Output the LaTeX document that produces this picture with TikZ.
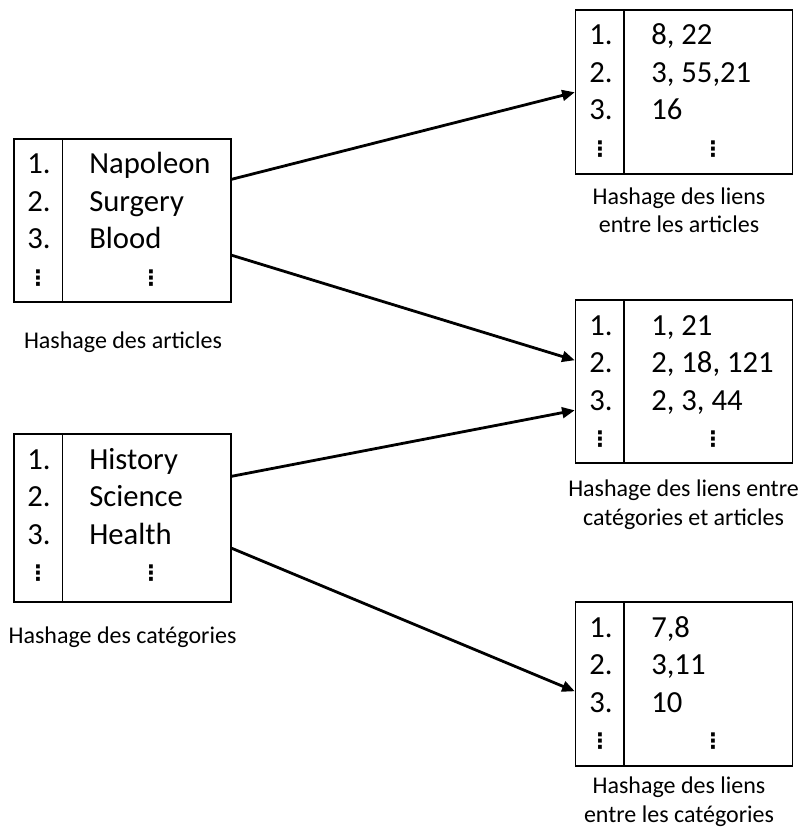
\documentclass[tikz,border=0pt]{standalone}
\usepackage{fontspec}
\setmainfont{Carlito}
\newfontfamily\symfont{DejaVu Sans}
\usetikzlibrary{arrows.meta}

% rows of one hash table: #1 prefix, #2 left x, #3 top y, #4-#6 row values
\newcommand\tablerows[6]{%
  \node[cell] (#1-n1) at (#2+13,#3+35) {1.};
  \node[cell] (#1-n2) at (#2+13,#3+72.5) {2.};
  \node[cell] (#1-n3) at (#2+13,#3+110) {3.};
  \node[cell] (#1-v1) at (#2+75,#3+35) {#4};
  \node[cell] (#1-v2) at (#2+75,#3+72.5) {#5};
  \node[cell] (#1-v3) at (#2+75,#3+110) {#6};
  \node[vdotsmark] (#1-d1) at (#2+24,#3+139) {⋮};
  \node[vdotsmark] (#1-d2) at (#2+137,#3+139) {⋮};
}

\begin{document}
\begin{tikzpicture}[x=0.75pt,y=-0.75pt,
  tbl/.style={draw, line width=1.1pt, inner sep=0pt, minimum width=162.75pt},
  cell/.style={anchor=base west, inner sep=0pt, font=\fontsize{23}{27}\selectfont},
  vdotsmark/.style={inner sep=0pt, font=\symfont\bfseries\fontsize{16}{16}\selectfont},
  tablecaption/.style={align=center, anchor=base, inner sep=0pt, font=\fontsize{18}{21.5}\selectfont},
  link/.style={line width=2.1pt, -{Triangle[length=9.5pt,width=8pt]}}]
\useasboundingbox (0,0) rectangle (803,830);

% left tables
\node[tbl, minimum height=122.25pt] (art) at (122.5,220.5) {};
\node[tbl, minimum height=126pt] (cat) at (122.5,518) {};
% right tables
\node[tbl, minimum height=123pt] (lart) at (684,92) {};
\node[tbl, minimum height=122.25pt] (lcatart) at (684,381.5) {};
\node[tbl, minimum height=123pt] (lcat) at (684,684) {};

% column separators
\foreach \t in {art,cat,lart,lcatart,lcat}
  \draw[line width=1.1pt] ([xshift=36.75pt]\t.north west) -- ([xshift=36.75pt]\t.south west);

\tablerows{art}{14}{139}{Napoleon}{Surgery}{Blood}
\tablerows{cat}{14}{434}{History}{Science}{Health}
\tablerows{lart}{576}{10}{8, 22}{3, 55,21}{16}
\tablerows{lcatart}{576}{300}{1, 21}{2, 18, 121}{2, 3, 44}
\tablerows{lcat}{576}{602}{7,8}{3,11}{10}

% captions (two-line captions are anchored on their last line)
\node[tablecaption] (cap-art) at (123,348) {Hashage des articles};
\node[tablecaption] (cap-cat) at (122.5,643) {Hashage des catégories};
\node[tablecaption] (cap-lart) at (679,233) {Hashage des liens\\entre les articles};
\node[tablecaption] (cap-lcatart) at (683.5,525) {Hashage des liens entre\\catégories et articles};
\node[tablecaption] (cap-lcat) at (679,822) {Hashage des liens\\entre les catégories};

% links between tables
\draw[link] ([yshift=-30.75pt]art.north east) -- ([yshift=-62.25pt]lart.north west);
\draw[link] ([yshift=-87.75pt]art.north east) -- ([yshift=-45.75pt]lcatart.north west);
\draw[link] ([yshift=-32.25pt]cat.north east) -- ([yshift=-83.25pt]lcatart.north west);
\draw[link] ([yshift=-86.25pt]cat.north east) -- ([yshift=-67.5pt]lcat.north west);
\end{tikzpicture}
\end{document}
